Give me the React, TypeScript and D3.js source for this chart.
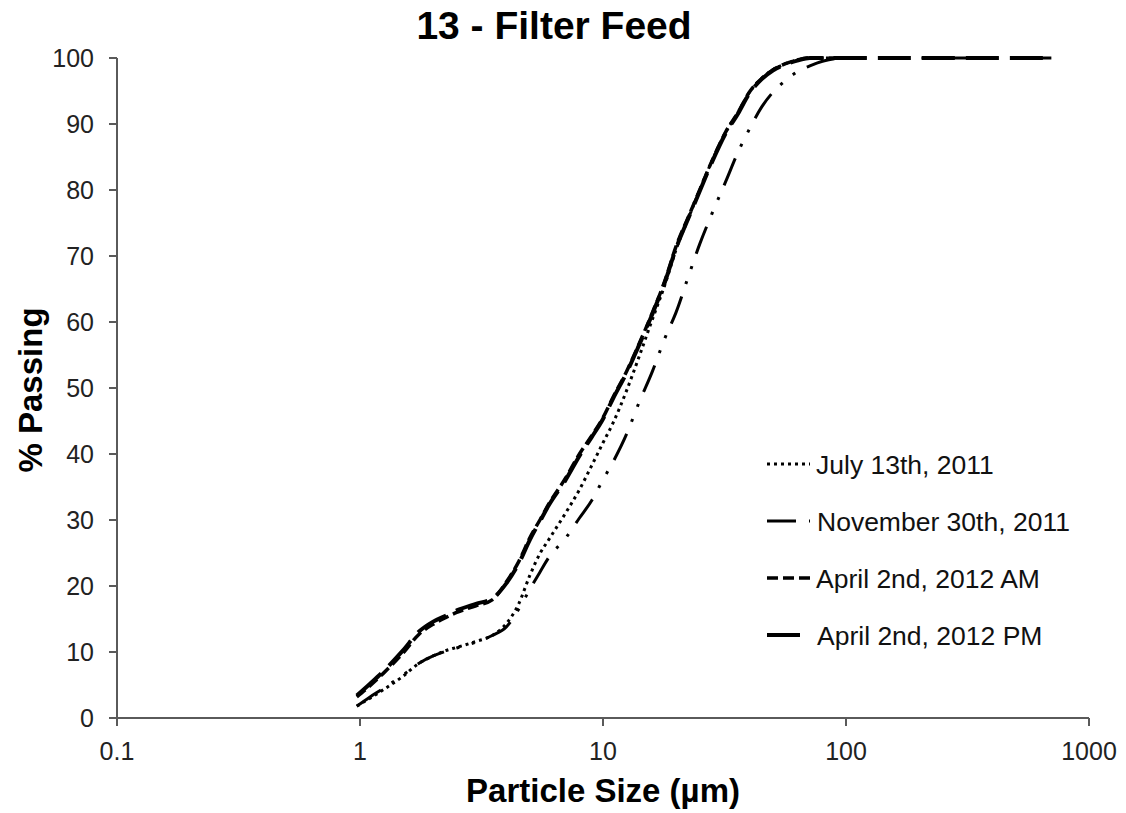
import React from 'react';
import * as d3 from 'd3';

// particle size classes (µm)
const sizes = [
  0.97, 1.1, 1.25, 1.5, 1.75, 2, 2.25, 2.5, 3, 3.5, 4, 4.5, 5, 5.5, 6, 7, 8, 9, 10, 11, 12.5, 14, 16, 18,
  20, 22.5, 25, 28, 32, 36, 40, 45, 50, 56, 63, 71, 80, 90, 100, 200, 400, 700,
];

// % passing for each sample
const july13 = [
  1.8, 3.0, 4.3, 6.3, 8.3, 9.4, 10.2, 10.7, 11.6, 12.5, 14.3, 17.3, 21.6, 24.9, 27.1, 31.0, 34.6, 38.3,
  41.7, 44.7, 49.6, 54.5, 60.5, 65.7, 71.0, 75.8, 80.0, 84.3, 88.8, 91.8, 94.8, 96.9, 98.2, 99.1, 99.7,
  100, 100, 100, 100,
];
const nov30 = [
  1.8, 3.2, 4.5, 6.5, 8.3, 9.4, 10.1, 10.6, 11.5, 12.5, 13.8, 16.5, 19.5, 22.1, 24.4, 27.2, 30.3, 33.0,
  36.1, 38.8, 43.0, 47.6, 52.6, 57.6, 61.5, 67.0, 71.8, 76.3, 81.3, 85.8, 89.2, 92.6, 94.8, 96.5, 97.9,
  98.8, 99.5, 99.9, 100, 100, 100, 100,
];
const april2AM = [
  3.2, 4.9, 6.8, 9.8, 12.7, 14.2, 15.2, 16.0, 17.0, 17.9, 20.6, 23.7, 27.3, 30.0, 32.5, 36.3, 40.0, 42.8,
  45.5, 48.6, 52.5, 56.5, 61.5, 66.3, 71.5, 76.0, 80.0, 84.3, 88.8, 91.8, 94.8, 96.9, 98.2, 99.1, 99.7,
  100, 100, 100, 100,
];
const april2PM = [
  3.4, 5.2, 7.1, 10.2, 13.1, 14.6, 15.5, 16.3, 17.3, 18.1, 20.4, 23.4, 27.0, 29.8, 32.3, 36.0, 39.7, 42.6,
  45.3, 48.4, 52.3, 56.3, 61.3, 66.1, 71.2, 75.8, 79.8, 84.1, 88.6, 91.6, 94.6, 96.8, 98.1, 99.0, 99.6,
  100, 100, 100, 100, 100, 100, 100,
];

const seriesNames = ['July 13th, 2011', 'November 30th, 2011', 'April 2nd, 2012 AM', 'April 2nd, 2012 PM'];
const seriesValues = [july13, nov30, april2AM, april2PM];
const lineStyles = [
  { dash: '3,4', width: 3 },
  { dash: '29,13,3,13,3,13', width: 3 },
  { dash: '11,5', width: 3.5 },
  { dash: '33,11', width: 4 },
];

const xTicks = [0.1, 1, 10, 100, 1000];
const yTicks = [0, 10, 20, 30, 40, 50, 60, 70, 80, 90, 100];

const W = 1126;
const H = 813;
const left = 117;
const right = 1089;
const top = 58;
const bottom = 718;
const axisColor = '#5a5a5a';
const font = 'Liberation Sans, Arial, sans-serif';

export default function App() {
  const x = d3.scaleLog().domain([0.1, 1000]).range([left, right]);
  const y = d3.scaleLinear().domain([0, 100]).range([bottom, top]);

  const line = d3
    .line<[number, number]>()
    .x((d) => x(d[0]))
    .y((d) => y(d[1]))
    .curve(d3.curveMonotoneX);

  const legendX = 767;
  const legendY = 464;
  const legendStep = 57;

  return (
    <svg width={W} height={H} style={{ position: 'absolute', left: 0, top: 0, background: '#fff' }}>
      <text x={554} y={39} textAnchor='middle' fontFamily={font} fontWeight='bold' fontSize={39}>
        13 - Filter Feed
      </text>

      {/* axes */}
      <line x1={left} x2={left} y1={top} y2={bottom} stroke={axisColor} strokeWidth={2} />
      <line x1={left} x2={right} y1={bottom} y2={bottom} stroke={axisColor} strokeWidth={2} />
      {yTicks.map((t) => (
        <g key={'y' + t}>
          <line x1={left - 8} x2={left} y1={y(t)} y2={y(t)} stroke={axisColor} strokeWidth={2} />
          <text x={94} y={y(t)} dy='0.35em' textAnchor='end' fontFamily={font} fontSize={25} fill='#222'>
            {t}
          </text>
        </g>
      ))}
      {xTicks.map((t) => (
        <g key={'x' + t}>
          <line x1={x(t)} x2={x(t)} y1={bottom} y2={bottom + 8} stroke={axisColor} strokeWidth={2} />
          <text x={x(t)} y={760} textAnchor='middle' fontFamily={font} fontSize={25} fill='#222'>
            {t}
          </text>
        </g>
      ))}

      <text x={603} y={802} textAnchor='middle' fontFamily={font} fontWeight='bold' fontSize={33}>
        Particle Size (µm)
      </text>
      <text
        transform={`translate(42,${390}) rotate(-90)`}
        textAnchor='middle'
        fontFamily={font}
        fontWeight='bold'
        fontSize={33}
      >
        % Passing
      </text>

      {/* curves */}
      {seriesValues.map((vals, i) => (
        <path
          key={seriesNames[i]}
          d={line(vals.map((v, j) => [sizes[j], v] as [number, number])) || ''}
          fill='none'
          stroke='#000'
          strokeWidth={lineStyles[i].width}
          strokeDasharray={lineStyles[i].dash}
        />
      ))}

      {/* legend */}
      {seriesNames.map((name, i) => (
        <g key={'leg' + i} transform={`translate(${legendX},${legendY + i * legendStep})`}>
          <line
            x1={0}
            x2={43}
            y1={0}
            y2={0}
            stroke='#000'
            strokeWidth={lineStyles[i].width}
            strokeDasharray={lineStyles[i].dash}
          />
          <text x={i % 2 === 0 ? 49 : 50} y={0} dy='0.36em' fontFamily={font} fontSize={26.5} fill='#111'>
            {name}
          </text>
        </g>
      ))}
    </svg>
  );
}
